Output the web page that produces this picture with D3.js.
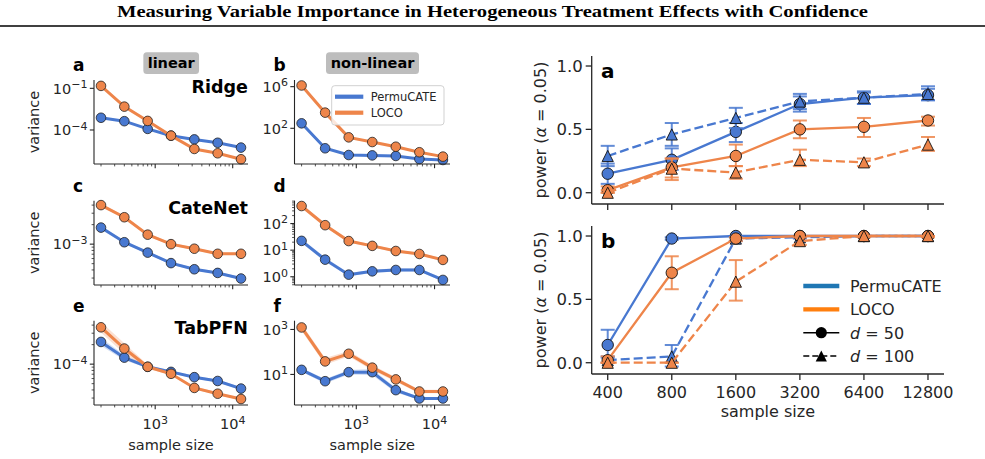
<!DOCTYPE html>
<html lang="en">
<head>
<meta charset="utf-8">
<style>
body { margin: 0; background: #fff; }
text { font-family: "DejaVu Sans", sans-serif; fill: #262626; }
</style>
<script src="https://cdn.jsdelivr.net/npm/d3@7/dist/d3.min.js"></script>
</head>
<body>
<script>

// ---- left: variance vs sample size ----
var sampleSizes = [200, 400, 800, 1600, 3200, 6400, 12800];

var ridgeLinPermu = [7.6e-4, 4.3e-4, 1.2e-4, 3.9e-5, 2.1e-5, 1.2e-5, 5.4e-6];
var ridgeLinLoco  = [1.5e-1, 4.8e-3, 4.5e-4, 3.9e-5, 4.3e-6, 2.1e-6, 7.8e-7];
var ridgeNonPermu = [300, 1.2, 0.27, 0.25, 0.22, 0.11, 0.09];
var ridgeNonLoco  = [1.3e6, 3200, 13.5, 4.8, 1.7, 0.5, 0.19];
var cateLinPermu  = [1.8e-3, 1.07e-3, 7.4e-4, 5.1e-4, 4.1e-4, 3.6e-4, 2.95e-4];
var cateLinLoco   = [4.0e-3, 2.6e-3, 1.4e-3, 1.0e-3, 8.5e-4, 7.1e-4, 7.1e-4];
var cateNonPermu  = [22.4, 4.4, 1.2, 1.6, 1.8, 1.8, 0.76];
var cateNonLoco   = [457, 87, 22, 14.5, 9.3, 7.2, 4.3];
var tabLinPermu   = [2.2e-4, 1.26e-4, 9.1e-5, 7.6e-5, 6.3e-5, 5.5e-5, 4.2e-5];
var tabLinLoco    = [3.7e-4, 1.74e-4, 9.1e-5, 7.1e-5, 4.3e-5, 3.5e-5, 2.9e-5];
var tabNonPermu   = [16, 5.0, 12.6, 12.6, 2.0, 0.85, 0.85];
var tabNonLoco    = [1230, 38, 83, 20, 6.0, 1.74, 1.74];

// band half-widths (decades)
var ridgeLinPermuCI = [0.04, 0.03, 0.03, 0.03, 0.03, 0.03, 0.03];
var ridgeLinLocoCI  = [0.05, 0.05, 0.04, 0.04, 0.04, 0.04, 0.04];
var ridgeNonPermuCI = [0.12, 0.10, 0.08, 0.06, 0.06, 0.06, 0.06];
var ridgeNonLocoCI  = [0.15, 0.14, 0.10, 0.08, 0.08, 0.08, 0.08];
var cateLinPermuCI  = [0.03, 0.02, 0.02, 0.02, 0.02, 0.02, 0.02];
var cateLinLocoCI   = [0.03, 0.02, 0.02, 0.02, 0.02, 0.02, 0.02];
var cateNonPermuCI  = [0.08, 0.08, 0.06, 0.06, 0.06, 0.06, 0.06];
var cateNonLocoCI   = [0.07, 0.06, 0.05, 0.05, 0.05, 0.05, 0.05];
var tabLinPermuCI   = [0.06, 0.04, 0.02, 0.02, 0.02, 0.02, 0.02];
var tabLinLocoCI    = [0.08, 0.08, 0.03, 0.02, 0.02, 0.02, 0.02];
var tabNonPermuCI   = [0.08, 0.10, 0.10, 0.14, 0.10, 0.06, 0.06];
var tabNonLocoCI    = [0.15, 0.15, 0.12, 0.12, 0.10, 0.08, 0.08];

// ---- right: power vs sample size ----
var powerSizes = ["400", "800", "1600", "3200", "6400", "12800"];

var powA_permu50      = [0.15, 0.26, 0.48, 0.70, 0.75, 0.77];
var powA_permu50Lo    = [0.07, 0.18, 0.40, 0.64, 0.70, 0.73];
var powA_permu50Hi    = [0.23, 0.35, 0.55, 0.76, 0.79, 0.82];
var powA_permu100     = [0.29, 0.46, 0.59, 0.72, 0.75, 0.78];
var powA_permu100Lo   = [0.21, 0.37, 0.51, 0.66, 0.70, 0.73];
var powA_permu100Hi   = [0.37, 0.55, 0.67, 0.78, 0.80, 0.84];
var powA_loco50       = [0.02, 0.20, 0.29, 0.50, 0.52, 0.57];
var powA_loco50Lo     = [0.00, 0.12, 0.21, 0.43, 0.44, 0.53];
var powA_loco50Hi     = [0.05, 0.27, 0.38, 0.57, 0.59, 0.60];
var powA_loco100      = [0.00, 0.19, 0.16, 0.26, 0.24, 0.38];
var powA_loco100Lo    = [0.00, 0.10, 0.11, 0.21, 0.21, 0.33];
var powA_loco100Hi    = [0.02, 0.27, 0.21, 0.34, 0.27, 0.44];

var powB_permu50      = [0.14, 0.98, 1.00, 1.00, 1.00, 1.00];
var powB_permu50Lo    = [0.05, 0.97, 1.00, 1.00, 1.00, 1.00];
var powB_permu50Hi    = [0.26, 0.99, 1.00, 1.00, 1.00, 1.00];
var powB_permu100     = [0.02, 0.05, 0.98, 0.99, 1.00, 1.00];
var powB_permu100Lo   = [0.00, -0.03, 0.96, 0.98, 1.00, 1.00];
var powB_permu100Hi   = [0.04, 0.14, 1.00, 1.00, 1.00, 1.00];
var powB_loco50       = [0.02, 0.71, 0.98, 1.00, 1.00, 1.00];
var powB_loco50Lo     = [0.00, 0.58, 0.96, 1.00, 1.00, 1.00];
var powB_loco50Hi     = [0.05, 0.84, 0.99, 1.00, 1.00, 1.00];
var powB_loco100      = [0.00, 0.00, 0.64, 0.96, 1.00, 1.00];
var powB_loco100Lo    = [0.00, 0.00, 0.49, 0.93, 0.99, 0.99];
var powB_loco100Hi    = [0.00, 0.00, 0.81, 0.99, 1.00, 1.00];

var width = 985, height = 459;
var blue = "#4878d0", orange = "#ee854a";
var ink = "#262626";

var svg = d3.select("body").append("svg")
	.attr("width", width)
	.attr("height", height);

// title + rule
svg.append("text")
	.attr("x", 117).attr("y", 16.5)
	.attr("textLength", 751)
	.attr("lengthAdjust", "spacingAndGlyphs")
	.style("font-family", '"Liberation Serif", "Times New Roman", serif')
	.style("font-weight", "bold")
	.style("font-size", "16.5px")
	.style("fill", "#000")
	.text("Measuring Variable Importance in Heterogeneous Treatment Effects with Confidence");
svg.append("line")
	.attr("x1", 0).attr("x2", width).attr("y1", 26).attr("y2", 26)
	.attr("stroke", "#000").attr("stroke-width", 1.6);

function powLabel(t, e) {
	t.text("10");
	t.append("tspan").attr("dy", -5.5).style("font-size", "11px")
		.text(e < 0 ? "\u2212" + (-e) : String(e));
}

// ---------- left grid ----------
var colX = [[94, 248], [294.5, 450]];
var rowY = [[80, 164], [200.7, 285], [320.7, 405]];

var panels = [
	{letter: "a", col: 0, row: 0, model: "Ridge", permu: ridgeLinPermu, loco: ridgeLinLoco, pci: ridgeLinPermuCI, lci: ridgeLinLocoCI, ylim: [-6.45, -0.4], majors: [-4, -1], minor: false},
	{letter: "b", col: 1, row: 0, model: null, permu: ridgeNonPermu, loco: ridgeNonLoco, pci: ridgeNonPermuCI, lci: ridgeNonLocoCI, ylim: [-1.43, 6.64], majors: [2, 6], minor: false},
	{letter: "c", col: 0, row: 1, model: "CateNet", permu: cateLinPermu, loco: cateLinLoco, pci: cateLinPermuCI, lci: cateLinLocoCI, ylim: [-3.63, -2.33], majors: [-3], minor: true},
	{letter: "d", col: 1, row: 1, model: null, permu: cateNonPermu, loco: cateNonLoco, pci: cateNonPermuCI, lci: cateNonLocoCI, ylim: [-0.31, 2.86], majors: [0, 1, 2], minor: true},
	{letter: "e", col: 0, row: 2, model: "TabPFN", permu: tabLinPermu, loco: tabLinLoco, pci: tabLinPermuCI, lci: tabLinLocoCI, ylim: [-4.63, -3.33], majors: [-4], minor: true},
	{letter: "f", col: 1, row: 2, model: null, permu: tabNonPermu, loco: tabNonLoco, pci: tabNonPermuCI, lci: tabNonLocoCI, ylim: [-0.36, 3.39], majors: [1, 3], minor: false}
];

panels.forEach(function(p) {
	var x0 = colX[p.col][0], x1 = colX[p.col][1];
	var y0 = rowY[p.row][0], y1 = rowY[p.row][1];
	var x = d3.scaleLog().domain([162.4, 15757]).range([x0, x1]);
	var y = d3.scaleLog().domain([Math.pow(10, p.ylim[0]), Math.pow(10, p.ylim[1])]).range([y1, y0]);
	var g = svg.append("g");

	var series = [
		{vals: p.permu, ci: p.pci, color: blue},
		{vals: p.loco, ci: p.lci, color: orange}
	];

	series.forEach(function(s) {
		var area = d3.area()
			.x(function(d, i) { return x(sampleSizes[i]); })
			.y0(function(d, i) { return y(d * Math.pow(10, -s.ci[i])); })
			.y1(function(d, i) { return y(d * Math.pow(10, s.ci[i])); });
		g.append("path").attr("d", area(s.vals))
			.attr("fill", s.color).attr("opacity", 0.25);
	});
	series.forEach(function(s) {
		var line = d3.line()
			.x(function(d, i) { return x(sampleSizes[i]); })
			.y(function(d) { return y(d); });
		g.append("path").attr("d", line(s.vals))
			.attr("fill", "none").attr("stroke", s.color).attr("stroke-width", 3);
		g.selectAll(null).data(s.vals).enter().append("circle")
			.attr("cx", function(d, i) { return x(sampleSizes[i]); })
			.attr("cy", function(d) { return y(d); })
			.attr("r", 4.8)
			.attr("fill", s.color).attr("stroke", "#222").attr("stroke-width", 0.8);
	});

	// spines
	g.append("line").attr("x1", x0).attr("x2", x0).attr("y1", y0).attr("y2", y1)
		.attr("stroke", ink).attr("stroke-width", 1.1);
	g.append("line").attr("x1", x0).attr("x2", x1).attr("y1", y1).attr("y2", y1)
		.attr("stroke", ink).attr("stroke-width", 1.1);

	// x ticks
	var xmaj = [1000, 10000];
	var xmin = [];
	[100, 1000, 10000].forEach(function(b) {
		for (var j = 2; j <= 9; j++) if (j * b > 162.4 && j * b < 15757) xmin.push(j * b);
	});
	g.selectAll(null).data(xmin).enter().append("line")
		.attr("x1", x).attr("x2", x).attr("y1", y1).attr("y2", y1 + 2.4)
		.attr("stroke", ink).attr("stroke-width", 0.8);
	g.selectAll(null).data(xmaj).enter().append("line")
		.attr("x1", x).attr("x2", x).attr("y1", y1).attr("y2", y1 + 4.2)
		.attr("stroke", ink).attr("stroke-width", 1.1);
	if (p.row == 2) {
		xmaj.forEach(function(v) {
			var t = g.append("text").attr("x", x(v)).attr("y", y1 + 24)
				.attr("text-anchor", "middle").style("font-size", "14.5px");
			powLabel(t, Math.round(Math.log10(v)));
		});
		g.append("text").attr("x", (x0 + x1) / 2).attr("y", y1 + 45)
			.attr("text-anchor", "middle").style("font-size", "14.5px").text("sample size");
	}

	// y ticks
	if (p.minor) {
		var ymin = [];
		for (var k = Math.floor(p.ylim[0]); k <= Math.ceil(p.ylim[1]); k++) {
			for (var j = 2; j <= 9; j++) {
				var lv = Math.log10(j) + k;
				if (lv > p.ylim[0] && lv < p.ylim[1]) ymin.push(j * Math.pow(10, k));
			}
		}
		g.selectAll(null).data(ymin).enter().append("line")
			.attr("x1", x0 - 2.4).attr("x2", x0).attr("y1", y).attr("y2", y)
			.attr("stroke", ink).attr("stroke-width", 0.8);
	}
	p.majors.forEach(function(e) {
		var yy = y(Math.pow(10, e));
		g.append("line").attr("x1", x0 - 4.2).attr("x2", x0).attr("y1", yy).attr("y2", yy)
			.attr("stroke", ink).attr("stroke-width", 1.1);
		var t = g.append("text").attr("x", x0 - 6.5).attr("y", yy + 5.3)
			.attr("text-anchor", "end").style("font-size", "14.5px");
		powLabel(t, e);
	});

	if (p.col == 0) {
		g.append("text")
			.attr("transform", "translate(39," + (y0 + y1) / 2 + ") rotate(-90)")
			.attr("text-anchor", "middle").style("font-size", "14.5px").text("variance");
		g.append("text").attr("x", x1).attr("y", y0 + 12.8)
			.attr("text-anchor", "end").style("font-size", "17.5px").style("font-weight", "bold")
			.style("fill", "#000").text(p.model);
	}
	g.append("text").attr("x", x0 - 21).attr("y", y0 - 8.8)
		.style("font-size", "17px").style("font-weight", "bold").style("fill", "#000")
		.text(p.letter);
});

// column headers
[{label: "linear", cx: 171.2, w: 55.7}, {label: "non-linear", cx: 372.5, w: 93}].forEach(function(h) {
	svg.append("rect").attr("x", h.cx - h.w / 2).attr("y", 52.3).attr("width", h.w).attr("height", 21.7)
		.attr("rx", 3.5).attr("fill", "#bdbdbd");
	svg.append("text").attr("x", h.cx).attr("y", 68.3).attr("text-anchor", "middle")
		.style("font-size", "14.5px").style("font-weight", "bold").style("fill", "#000").text(h.label);
});

// legend in panel b
var lg = svg.append("g");
lg.append("rect").attr("x", 331.7).attr("y", 85.7).attr("width", 112.3).attr("height", 39.3)
	.attr("rx", 3).attr("fill", "#fff").attr("fill-opacity", 0.8).attr("stroke", "#cccccc").attr("stroke-width", 0.9);
[{name: "PermuCATE", c: blue, y: 96.7}, {name: "LOCO", c: orange, y: 112.7}].forEach(function(e) {
	lg.append("line").attr("x1", 335).attr("x2", 363.3).attr("y1", e.y).attr("y2", e.y)
		.attr("stroke", e.c).attr("stroke-width", 4.2);
	lg.append("text").attr("x", 370.7).attr("y", e.y + 4.2).style("font-size", "11.5px").text(e.name);
});

// ---------- right panels ----------
var rx0 = 591.7, rx1 = 944;
var xr = d3.scalePoint().domain(powerSizes).range([rx0, rx1]).padding(0.25);

var powerPanels = [
	{letter: "a", y0: 56, y1: 204, xlabels: false, series: [
		{v: powA_permu50, lo: powA_permu50Lo, hi: powA_permu50Hi, c: blue, dash: false},
		{v: powA_permu100, lo: powA_permu100Lo, hi: powA_permu100Hi, c: blue, dash: true},
		{v: powA_loco50, lo: powA_loco50Lo, hi: powA_loco50Hi, c: orange, dash: false},
		{v: powA_loco100, lo: powA_loco100Lo, hi: powA_loco100Hi, c: orange, dash: true}]},
	{letter: "b", y0: 226, y1: 374, xlabels: true, series: [
		{v: powB_permu50, lo: powB_permu50Lo, hi: powB_permu50Hi, c: blue, dash: false},
		{v: powB_permu100, lo: powB_permu100Lo, hi: powB_permu100Hi, c: blue, dash: true},
		{v: powB_loco50, lo: powB_loco50Lo, hi: powB_loco50Hi, c: orange, dash: false},
		{v: powB_loco100, lo: powB_loco100Lo, hi: powB_loco100Hi, c: orange, dash: true}]}
];

function triangle(s) {
	return "M0," + (-s) + "L" + (-s) + "," + s + "L" + s + "," + s + "Z";
}

powerPanels.forEach(function(p) {
	var y = d3.scaleLinear().domain([-0.089, 1.079]).range([p.y1, p.y0]);
	var g = svg.append("g");

	p.series.forEach(function(s) {
		var line = d3.line()
			.x(function(d, i) { return xr(powerSizes[i]); })
			.y(function(d) { return y(d); });
		g.append("path").attr("d", line(s.v))
			.attr("fill", "none").attr("stroke", s.c).attr("stroke-width", 2.3)
			.attr("stroke-dasharray", s.dash ? "9,4" : null);
		s.v.forEach(function(d, i) {
			var cx = xr(powerSizes[i]);
			g.append("line").attr("x1", cx).attr("x2", cx).attr("y1", y(s.lo[i])).attr("y2", y(s.hi[i]))
				.attr("stroke", s.c).attr("stroke-width", 2).attr("opacity", 0.85);
			[s.lo[i], s.hi[i]].forEach(function(e) {
				g.append("line").attr("x1", cx - 7).attr("x2", cx + 7).attr("y1", y(e)).attr("y2", y(e))
					.attr("stroke", s.c).attr("stroke-width", 2).attr("opacity", 0.85);
			});
		});
		s.v.forEach(function(d, i) {
			var cx = xr(powerSizes[i]), cy = y(d);
			if (s.dash) {
				g.append("path").attr("d", triangle(5.6))
					.attr("transform", "translate(" + cx + "," + cy + ")")
					.attr("fill", s.c).attr("stroke", "#111").attr("stroke-width", 0.9);
			} else {
				g.append("circle").attr("cx", cx).attr("cy", cy).attr("r", 5.7)
					.attr("fill", s.c).attr("stroke", "#111").attr("stroke-width", 0.9);
			}
		});
	});

	// spines
	g.append("line").attr("x1", rx0).attr("x2", rx0).attr("y1", p.y0).attr("y2", p.y1)
		.attr("stroke", ink).attr("stroke-width", 1.3);
	g.append("line").attr("x1", rx0).attr("x2", rx1).attr("y1", p.y1).attr("y2", p.y1)
		.attr("stroke", ink).attr("stroke-width", 1.3);

	[0, 0.5, 1].forEach(function(v) {
		g.append("line").attr("x1", rx0 - 6).attr("x2", rx0).attr("y1", y(v)).attr("y2", y(v))
			.attr("stroke", ink).attr("stroke-width", 1.3);
		g.append("text").attr("x", rx0 - 9).attr("y", y(v) + 6).attr("text-anchor", "end")
			.style("font-size", "16.5px").text(d3.format(".1f")(v));
	});
	powerSizes.forEach(function(c) {
		g.append("line").attr("x1", xr(c)).attr("x2", xr(c)).attr("y1", p.y1).attr("y2", p.y1 + 6)
			.attr("stroke", ink).attr("stroke-width", 1.3);
		if (p.xlabels) {
			g.append("text").attr("x", xr(c)).attr("y", p.y1 + 24).attr("text-anchor", "middle")
				.style("font-size", "16px").text(c);
		}
	});
	if (p.xlabels) {
		g.append("text").attr("x", (rx0 + rx1) / 2).attr("y", p.y1 + 43).attr("text-anchor", "middle")
			.style("font-size", "16px").text("sample size");
	}

	var yl = g.append("text")
		.attr("transform", "translate(546," + (p.y0 + p.y1) / 2 + ") rotate(-90)")
		.attr("text-anchor", "middle").style("font-size", "16px");
	yl.append("tspan").text("power (");
	yl.append("tspan").style("font-style", "italic").text("\u03b1");
	yl.append("tspan").text(" = 0.05)");

	g.append("text").attr("x", 601).attr("y", p.y0 + 21.5)
		.style("font-size", "20px").style("font-weight", "bold").style("fill", "#000").text(p.letter);
});

// legend for right panels
var rl = svg.append("g");
[{name: "PermuCATE", c: "#1f77b4", y: 286}, {name: "LOCO", c: "#ff7f0e", y: 309.3}].forEach(function(e) {
	rl.append("line").attr("x1", 803.3).attr("x2", 839.3).attr("y1", e.y).attr("y2", e.y)
		.attr("stroke", e.c).attr("stroke-width", 4.3);
	rl.append("text").attr("x", 850).attr("y", e.y + 6).style("font-size", "16px").text(e.name);
});
[{d: "50", y: 332.7, dash: false}, {d: "100", y: 356, dash: true}].forEach(function(e) {
	rl.append("line").attr("x1", 803.3).attr("x2", 839.3).attr("y1", e.y).attr("y2", e.y)
		.attr("stroke", "#000").attr("stroke-width", 1.6)
		.attr("stroke-dasharray", e.dash ? "6,3" : null);
	if (e.dash) {
		rl.append("path").attr("d", triangle(5.6)).attr("transform", "translate(821.3," + e.y + ")").attr("fill", "#000");
	} else {
		rl.append("circle").attr("cx", 821.3).attr("cy", e.y).attr("r", 5.6).attr("fill", "#000");
	}
	var t = rl.append("text").attr("x", 850).attr("y", e.y + 6).style("font-size", "16px");
	t.append("tspan").style("font-style", "italic").text("d");
	t.append("tspan").text(" = " + e.d);
});

</script>
</body>
</html>
